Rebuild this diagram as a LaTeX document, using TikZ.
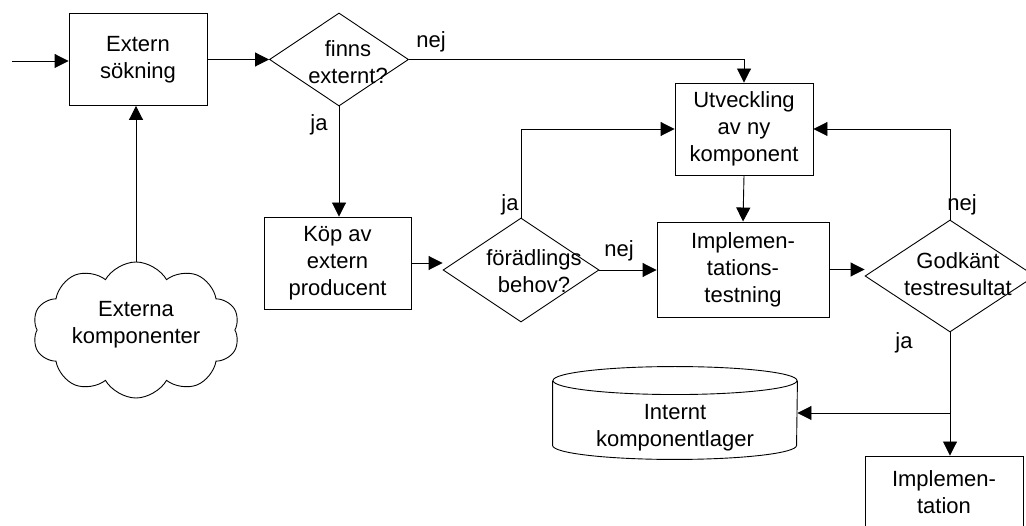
\documentclass[tikz,border=0pt]{standalone}
\usepackage{fontspec}
\setmainfont{Liberation Sans}
\usetikzlibrary{arrows.meta,shapes.geometric,shapes.symbols,calc}
\begin{document}
\begin{tikzpicture}[x=1pt,y=-1pt,
  font=\fontsize{22}{27}\selectfont,
  line width=0.9pt,
  box/.style={draw, rectangle, align=center, inner sep=0pt},
  dia/.style={draw, diamond, inner sep=0pt},
  txt/.style={align=center, inner sep=0pt},
  lbl/.style={inner sep=0pt},
  arr/.style={-{Triangle[length=14pt,width=14pt]}},
  ]
\useasboundingbox (0,0) rectangle (1026,526);
\clip (0,0) rectangle (1026,526);

% process boxes
\node[box, minimum width=138pt, minimum height=92pt] (ext) at (138,59.5) {Extern\\sökning};
\node[box, minimum width=147pt, minimum height=92pt] (koep) at (337.5,263) {Köp av\\extern\\producent};
\node[box, minimum width=138pt, minimum height=92pt] (utv) at (744,129) {Utveckling\\av ny\\komponent};
\node[box, minimum width=172pt, minimum height=95pt] (test) at (743,269.5) {Implemen-\\tations-\\testning};
\node[box, minimum width=158pt, minimum height=72pt] (impl) at (944,492) {Implemen-\\tation};

% decisions
\node[dia, minimum width=139pt, minimum height=93pt] (finns) at (339,59.5) {};
\node[txt] (finnsT) at (348,62) {finns\\externt?};
\node[dia, minimum width=156pt, minimum height=104pt] (foer) at (521,270) {};
\node[txt] (foerT) at (534,271) {förädlings\\behov?};
\node[dia, minimum width=170pt, minimum height=112pt] (god) at (950,276) {};
\node[txt] (godT) at (958,274) {Godkänt\\testresultat};

% external components
\node[cloud, draw, cloud puffs=10, cloud puff arc=120, aspect=1.5,
      shape border rotate=18,
      minimum width=207pt, minimum height=136pt, inner sep=0pt] (cloud) at (136,330) {};
\node[txt] (cloudT) at (136,325) {Externa\\komponenter};

% internal store (cylinder)
\node[minimum width=244pt, minimum height=92pt, inner sep=0pt] (lager) at (675,413) {};
\draw ([yshift=-14pt]lager.north west) -- ([yshift=14pt]lager.south west)
  arc[start angle=180, end angle=360, x radius=122pt, y radius=14pt]
  -- ([yshift=-14pt]lager.north east);
\draw ([yshift=-14pt]lager.north) ellipse[x radius=122pt, y radius=14pt];
\node[txt] (lagerT) at (675,428) {Internt\\komponentlager};

% connectors
\coordinate (start) at (12,61);
\coordinate (j) at (950,413);
\draw[arr] (start) -- (start -| ext.west);
\draw[arr] (ext.east) -- (finns.west);
\draw[arr] (cloud.north) -- (cloud.north |- ext.south);
\draw[arr] (finns.east) -| (utv.north);
\draw[arr] (finns.south) -- (finns.south |- koep.north);
\draw[arr] (koep.east) -- (koep.east -| foer.west);
\draw[arr] (foer.north) |- (utv.west);
\draw[arr] (foer.east) -- (foer.east -| test.west);
\draw[arr] (utv.south) -- (test.north);
\draw[arr] (test.east) -- (test.east -| god.west);
\draw[arr] (god.north) |- (utv.east);
\draw (god.south) -- (j);
\draw[arr] (j) -- (j |- impl.north);
\draw[arr] (j) -- (j -| lager.east);

% branch labels
\node[lbl] (n1) at (431,42) {nej};
\node[lbl] (j1) at (319,125) {ja};
\node[lbl] (j2) at (510,205) {ja};
\node[lbl] (n2) at (619,251) {nej};
\node[lbl] (n3) at (962,205) {nej};
\node[lbl] (j3) at (904,343) {ja};
\end{tikzpicture}
\end{document}
